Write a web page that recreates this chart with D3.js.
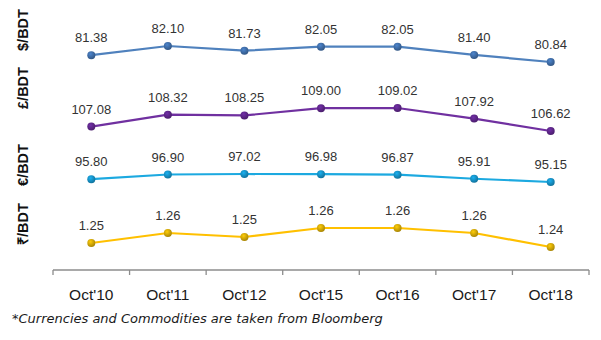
<!DOCTYPE html>
<html>
<head>
<meta charset="utf-8">
<script src="https://cdn.jsdelivr.net/npm/d3@7"></script>
<style>
  body { margin: 0; background: #fff; }
  svg { display: block; }
</style>
</head>
<body>
<div id="chart"></div>
<script>
// Datos
// =====
var periods = ["Oct'10", "Oct'11", "Oct'12", "Oct'15", "Oct'16", "Oct'17", "Oct'18"];
var usd = [81.38, 82.10, 81.73, 82.05, 82.05, 81.40, 80.84];
var gbp = [107.08, 108.32, 108.25, 109.00, 109.02, 107.92, 106.62];
var eur = [95.80, 96.90, 97.02, 96.98, 96.87, 95.91, 95.15];
var inr = [1.248, 1.258, 1.254, 1.263, 1.263, 1.258, 1.244];
var seriesNames = ["$/BDT", "£/BDT", "€/BDT", "₹/BDT"];
var note = "*Currencies and Commodities are taken from Bloomberg";

// Dimensiones
// ===========
var W = 601, H = 340;
var x0 = 53, x1 = 589, axisY = 270;

// pixel band for each panel (min value -> bottom, max value -> top) and label centre
var panels = [
  { name: seriesNames[0], values: usd, line: "#4f81bd", dot: "#3a649a", top: 46, bottom: 62, labelY: 30 },
  { name: seriesNames[1], values: gbp, line: "#7030a0", dot: "#56237e", top: 108, bottom: 131, labelY: 88 },
  { name: seriesNames[2], values: eur, line: "#1ca9e0", dot: "#1485b5", top: 174, bottom: 182, labelY: 165 },
  { name: seriesNames[3], values: inr, line: "#ffc000", dot: "#c39a06", top: 228, bottom: 247, labelY: 224 }
];

var svg = d3.select("#chart")
  .append("svg")
  .attr("width", W)
  .attr("height", H);

var defs = svg.append("defs");
panels.forEach(function(p, i) {
  var g = defs.append("radialGradient")
    .attr("id", "ball" + i)
    .attr("cx", "40%").attr("cy", "35%").attr("r", "65%");
  g.append("stop").attr("offset", "0%").attr("stop-color", d3.color(p.dot).brighter(0.8));
  g.append("stop").attr("offset", "100%").attr("stop-color", d3.color(p.dot).darker(0.4));
});

// Eje X
// =====
var x = d3.scaleBand()
  .domain(periods)
  .range([x0, x1]);

var xAxis = svg.append("g")
  .attr("transform", "translate(0," + axisY + ")");

xAxis.append("line")
  .attr("x1", x0).attr("x2", x1)
  .attr("stroke", "#8c8c8c").attr("stroke-width", 1.3);

xAxis.selectAll("line.tick")
  .data(d3.range(periods.length + 1))
  .enter().append("line")
  .attr("class", "tick")
  .attr("x1", function(d) { return x0 + d * x.bandwidth(); })
  .attr("x2", function(d) { return x0 + d * x.bandwidth(); })
  .attr("y1", 0).attr("y2", 5)
  .attr("stroke", "#8c8c8c").attr("stroke-width", 1.3);

xAxis.selectAll("text")
  .data(periods)
  .enter().append("text")
  .attr("x", function(d) { return x(d) + x.bandwidth() / 2; })
  .attr("y", 30)
  .attr("text-anchor", "middle")
  .attr("font-family", "Liberation Sans, Arial, sans-serif")
  .attr("font-size", "15.5px")
  .attr("fill", "#1a1a1a")
  .text(function(d) { return d; });

// Paneles
// =======
panels.forEach(function(p, i) {
  var y = d3.scaleLinear()
    .domain(d3.extent(p.values))
    .range([p.bottom, p.top]);

  var cx = function(d, j) { return x(periods[j]) + x.bandwidth() / 2; };

  var g = svg.append("g");

  g.append("path")
    .datum(p.values)
    .attr("fill", "none")
    .attr("stroke", p.line)
    .attr("stroke-width", 2.2)
    .attr("d", d3.line()
      .x(cx)
      .y(function(d) { return y(d); }));

  g.selectAll("circle")
    .data(p.values)
    .enter().append("circle")
    .attr("cx", cx)
    .attr("cy", function(d) { return y(d); })
    .attr("r", 4)
    .attr("fill", "url(#ball" + i + ")");

  g.selectAll("text.val")
    .data(p.values)
    .enter().append("text")
    .attr("class", "val")
    .attr("x", cx)
    .attr("y", function(d) { return y(d) - 13; })
    .attr("text-anchor", "middle")
    .attr("font-family", "Liberation Sans, Arial, sans-serif")
    .attr("font-size", "13px")
    .attr("fill", "#333")
    .text(function(d) { return d.toFixed(2); });

  svg.append("text")
    .attr("transform", "translate(28," + p.labelY + ") rotate(-90)")
    .attr("text-anchor", "middle")
    .attr("font-family", "Liberation Sans, Arial, sans-serif")
    .attr("font-weight", "bold")
    .attr("font-size", "14.5px")
    .attr("fill", "#111")
    .text(p.name);
});

// Nota
// ====
svg.append("text")
  .attr("x", 12)
  .attr("y", 323)
  .attr("font-family", "DejaVu Sans, Verdana, sans-serif")
  .attr("font-style", "italic")
  .attr("font-size", "13px")
  .attr("fill", "#1a1a1a")
  .text(note);
</script>
</body>
</html>
